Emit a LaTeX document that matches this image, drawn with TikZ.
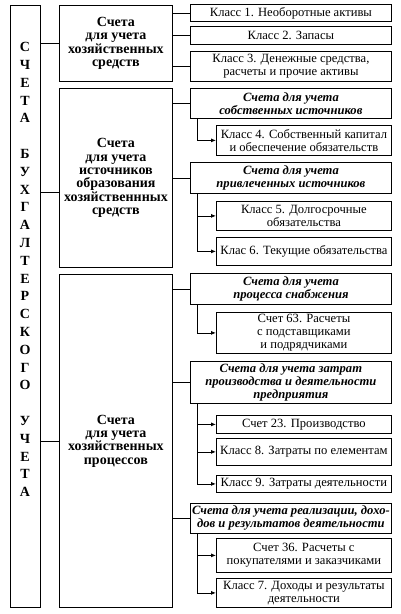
\documentclass[tikz,border=0pt]{standalone}
\usepackage{fontspec}
\setmainfont{Liberation Serif}
\usetikzlibrary{arrows.meta}

\tikzset{
  box/.style={draw, line width=0.8pt, inner sep=0pt, align=center, anchor=north west},
  hdr/.style={box, font=\bfseries\itshape\fontsize{12.6}{13}\selectfont},
  grp/.style={box, font=\bfseries\fontsize{14}{13.3}\selectfont},
  ln/.style={line width=0.8pt},
  arr/.style={line width=0.8pt, -{Latex[length=5pt,width=4pt]}},
}

\begin{document}
\begin{tikzpicture}[x=1pt, y=-1pt, font=\fontsize{12.6}{13}\selectfont]
\useasboundingbox (0,0) rectangle (400,614);

% left column
\node[box, minimum width=30, minimum height=602] (L) at (10,5) {};
\node[font=\bfseries\fontsize{14}{17.8}\selectfont, align=center, inner sep=0pt] (title) at (25,269.5)
  {С\\Ч\\Е\\Т\\А\\[17.8pt]Б\\У\\Х\\Г\\А\\Л\\Т\\Е\\Р\\С\\К\\О\\Г\\О\\[17.8pt]У\\Ч\\Е\\Т\\А};

% middle column
\node[grp, minimum width=113, minimum height=76] (M1) at (59,5) {Счета\\для учета\\хозяйственных\\средств};
\node[grp, minimum width=113, minimum height=179] (M2) at (59,88) {Счета\\для учета\\источников\\образования\\хозяйственнных\\средств};
\node[grp, minimum width=113, minimum height=333] (M3) at (59,274) {Счета\\для учета\\хозяйственных\\процессов};

% right column
\node[box, minimum width=201, minimum height=17] (k1) at (190,4) {Класс 1. Необоротные активы};
\node[box, minimum width=201, minimum height=18] (k2) at (190,26) {Класс 2. Запасы};
\node[box, minimum width=201, minimum height=30] (k3) at (190,51) {Класс 3. Денежные средства,\\расчеты и прочие активы};

\node[hdr, minimum width=201, minimum height=30] (h1) at (190,88) {Счета для учета\\собственных источников};
\node[box, minimum width=175, minimum height=30] (k4) at (216,125) {Класс 4. Собственный капитал\\и обеспечение обязательств};

\node[hdr, minimum width=201, minimum height=31] (h2) at (190,162) {Счета для учета\\привлеченных источников};
\node[box, minimum width=175, minimum height=29] (k5) at (216,201) {Класс 5. Долгосрочные\\обязательства};
\node[box, minimum width=175, minimum height=28] (k6) at (216,237) {Клас 6. Текущие обязательства};

\node[hdr, minimum width=201, minimum height=31] (h3) at (190,273) {Счета для учета\\процесса снабжения};
\node[box, minimum width=175, minimum height=41] (s63) at (216,312) {Счет 63. Расчеты\\с подставщиками\\и подрядчиками};

\node[hdr, minimum width=201, minimum height=42] (h4) at (190,361) {Счета для учета затрат\\производства и деятельности\\предприятия};
\node[box, minimum width=175, minimum height=18] (s23) at (216,415) {Счет 23. Производство};
\node[box, minimum width=175, minimum height=27] (k8) at (216,438) {Класс 8. Затраты по елементам};
\node[box, minimum width=175, minimum height=17] (k9) at (216,475) {Класс 9. Затраты деятельности};

\node[hdr, minimum width=201, minimum height=30] (h5) at (190,503) {Счета для учета реализации, дохо-\\дов и результатов деятельности};
\node[box, minimum width=175, minimum height=34] (s36) at (216,538) {Счет 36. Расчеты с\\покупателями и заказчиками};
\node[box, minimum width=175, minimum height=29] (k7) at (216,578) {Класс 7. Доходы и результаты\\деятельности};

% left to middle
\coordinate (m2in) at ([yshift=-14.5pt]M2.west);
\draw[ln] (L.east |- M1.west) -- (M1.west);
\draw[ln] (L.east |- m2in) -- (m2in);
\draw[ln] (L.east |- M3.west) -- (M3.west);

% middle to right
\foreach \n in {k1,k2,k3} \draw[ln] (M1.east |- \n.west) -- (\n.west);
\foreach \n in {h1,h2} \draw[ln] (M2.east |- \n.west) -- (\n.west);
\foreach \n in {h3,h4,h5} \draw[ln] (M3.east |- \n.west) -- (\n.west);

% headers to their accounts
\draw[arr] ([xshift=7pt]h1.south west) |- (k4.west);
\foreach \n in {k5,k6} \draw[arr] ([xshift=7pt]h2.south west) |- (\n.west);
\draw[arr] ([xshift=7pt]h3.south west) |- (s63.west);
\foreach \n in {s23,k8,k9} \draw[arr] ([xshift=7pt]h4.south west) |- (\n.west);
\foreach \n in {s36,k7} \draw[arr] ([xshift=7pt]h5.south west) |- (\n.west);
\end{tikzpicture}
\end{document}
